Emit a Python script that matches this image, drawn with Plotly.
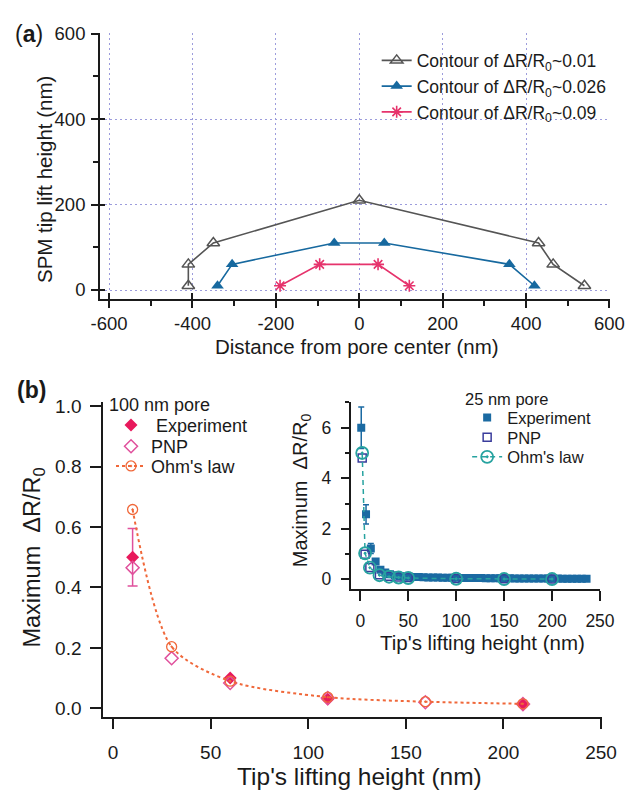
import plotly.graph_objects as go

W, H = 640, 791
FONT = "Liberation Sans, Arial, Helvetica, sans-serif"
INK = "#1a1a1a"

# ---------------- data ----------------
# (a) contours of constant resistance change: lateral distance (nm) vs tip lift height (nm)
c01_dist = [-410, -410, -350, 0, 430, 465, 540]
c01_height = [10, 60, 110, 210, 110, 60, 10]
c026_dist = [-340, -305, -60, 60, 360, 420]
c026_height = [10, 60, 110, 110, 60, 10]
c09_dist = [-190, -95, 45, 120]
c09_height = [10, 60, 60, 10]

# (b) 100 nm pore: maximum dR/R0 vs tip lifting height (nm)
p100_exp_h = [10, 60, 110, 210]
p100_exp = [0.50, 0.10, 0.03, 0.013]
p100_exp_err = [0.095, 0.0, 0.0, 0.0]
p100_pnp_h = [10, 30, 60, 110, 160, 210]
p100_pnp = [0.465, 0.166, 0.084, 0.034, 0.020, 0.014]
p100_ohm_h = [10, 30, 60, 110, 160, 210]
p100_ohm = [0.658, 0.204, 0.090, 0.037, 0.022, 0.015]

# inset: 25 nm pore
p25_exp_h = [1, 6, 11, 16, 21, 26, 31, 36, 41, 46, 51, 56, 61, 66, 71, 76,
             81, 86, 91, 96, 101, 106, 111, 116, 121, 126, 131, 136, 141, 146,
             151, 156, 161, 166, 171, 176, 181, 186, 191, 196, 201, 206, 211,
             216, 221, 226, 231, 236]
p25_exp = [6.0, 2.57, 1.22, 0.70, 0.38, 0.27, 0.20, 0.16, 0.13, 0.11, 0.10,
           0.09, 0.085, 0.08, 0.075, 0.07, 0.068, 0.065, 0.062, 0.06, 0.058,
           0.055, 0.053, 0.05, 0.048, 0.046, 0.045, 0.043, 0.042, 0.04, 0.038,
           0.037, 0.035, 0.034, 0.033, 0.032, 0.031, 0.03, 0.029, 0.028, 0.027,
           0.026, 0.025, 0.024, 0.023, 0.022, 0.021, 0.02]
p25_exp_err = [0.82, 0.38, 0.20, 0.10, 0, 0, 0, 0, 0, 0, 0, 0, 0, 0, 0, 0,
               0, 0, 0, 0, 0, 0, 0, 0, 0, 0, 0, 0, 0, 0, 0, 0, 0, 0, 0, 0,
               0, 0, 0, 0, 0, 0, 0, 0, 0, 0, 0, 0]
p25_model_h = [2, 5, 10, 20, 30, 40, 50, 100, 150, 200]
p25_pnp = [4.8, 0.99, 0.47, 0.18, 0.12, 0.09, 0.07, 0.03, 0.02, 0.01]
p25_ohm = [5.0, 1.03, 0.46, 0.16, 0.10, 0.07, 0.05, 0.02, 0.01, 0.01]

# tick positions and labels
a_xticks = [-600, -400, -200, 0, 200, 400, 600]
a_xticklabels = ["-600", "-400", "-200", "0", "200", "400", "600"]
a_yticks = [0, 200, 400, 600]
b_xticks = [0, 50, 100, 150, 200, 250]
b_yticks = [0.0, 0.2, 0.4, 0.6, 0.8, 1.0]
b_yticklabels = ["0.0", "0.2", "0.4", "0.6", "0.8", "1.0"]
i_yticks = [0, 2, 4, 6]
i_yminor = [1, 3, 5, 7]

# ---------------- styles ----------------
GREY = "#555555"
BLUE = "#17699f"
ROSE = "#e6336c"
RED = "#e8195c"
PINK = "#e0509c"
ORANGE = "#f0683a"
SQBLUE = "#1b6aa2"
NAVY = "#3a3c9c"
TEAL = "#27a3a0"
GRIDCOL = "#9c9cdc"


def px_x(p):
    return p / W


def px_y(p):
    return 1 - p / H


fig = go.Figure()

# ---- panel (a) ----
fig.add_trace(go.Scatter(
    x=c01_dist, y=c01_height, mode="lines+markers", xaxis="x", yaxis="y",
    name="Contour of ΔR/R<sub>0</sub>~0.01", legend="legend",
    line=dict(color=GREY, width=1.6),
    marker=dict(symbol="triangle-up-open", size=11, color=GREY, line=dict(width=1.5, color=GREY)),
))
fig.add_trace(go.Scatter(
    x=c026_dist, y=c026_height, mode="lines+markers", xaxis="x", yaxis="y",
    name="Contour of ΔR/R<sub>0</sub>~0.026", legend="legend",
    line=dict(color=BLUE, width=1.6),
    marker=dict(symbol="triangle-up", size=11, color=BLUE),
))
fig.add_trace(go.Scatter(
    x=c09_dist, y=c09_height, mode="lines+markers", xaxis="x", yaxis="y",
    name="Contour of ΔR/R<sub>0</sub>~0.09", legend="legend",
    line=dict(color=ROSE, width=1.6),
    marker=dict(symbol="asterisk-open", size=10, color=ROSE, line=dict(width=1.6, color=ROSE)),
))
# empty traces carrying the inner half of the crossing ticks of panel (a)
fig.add_trace(go.Scatter(x=[], y=[], xaxis="x4", yaxis="y", showlegend=False, hoverinfo="skip"))
fig.add_trace(go.Scatter(x=[], y=[], xaxis="x", yaxis="y4", showlegend=False, hoverinfo="skip"))

# ---- panel (b), 100 nm pore ----
fig.add_trace(go.Scatter(
    x=p100_exp_h, y=p100_exp, mode="markers", xaxis="x2", yaxis="y2",
    name="\u00a0Experiment", legend="legend2",
    marker=dict(symbol="diamond", size=10, color=RED),
    error_y=dict(type="data", array=p100_exp_err, color=PINK, thickness=1.5, width=5),
))
fig.add_trace(go.Scatter(
    x=p100_pnp_h, y=p100_pnp, mode="markers", xaxis="x2", yaxis="y2",
    name="PNP", legend="legend3",
    marker=dict(symbol="diamond-open", size=10, color=PINK, line=dict(width=1.5, color=PINK)),
))
fig.add_trace(go.Scatter(
    x=p100_ohm_h, y=p100_ohm, mode="lines+markers", xaxis="x2", yaxis="y2",
    name="Ohm's law", legend="legend4",
    line=dict(color=ORANGE, width=2, dash="3px,3px", shape="spline", smoothing=0.8),
    marker=dict(symbol="circle-open-dot", size=10, color=ORANGE, line=dict(width=1.3, color=ORANGE)),
))

# ---- inset, 25 nm pore ----
fig.add_trace(go.Scatter(
    x=p25_exp_h, y=p25_exp, mode="markers", xaxis="x3", yaxis="y3",
    name="Experiment", legend="legend5",
    marker=dict(symbol="square", size=8, color=SQBLUE),
    error_y=dict(type="data", array=p25_exp_err, color=SQBLUE, thickness=1.5, width=3),
))
fig.add_trace(go.Scatter(
    x=p25_model_h, y=p25_pnp, mode="markers", xaxis="x3", yaxis="y3",
    name="PNP", legend="legend6",
    marker=dict(symbol="square-open", size=8, color=NAVY, line=dict(width=1.5, color=NAVY)),
))
fig.add_trace(go.Scatter(
    x=p25_model_h, y=p25_ohm, mode="lines+markers", xaxis="x3", yaxis="y3",
    name="Ohm's law", legend="legend7",
    line=dict(color=TEAL, width=1.5, dash="5px,4px"),
    marker=dict(symbol="circle-open-dot", size=12, color=TEAL, line=dict(width=1.8, color=TEAL)),
))


def axis(**kw):
    base = dict(showline=True, linecolor=INK, linewidth=2, ticks="outside",
                tickcolor=INK, tickwidth=1.5, showgrid=False, zeroline=False,
                mirror=False, fixedrange=True, tickmode="array",
                tickfont=dict(family=FONT, size=17, color=INK))
    base.update(kw)
    return base


GRID = dict(showgrid=True, gridcolor=GRIDCOL, griddash="2px,3px", gridwidth=1)
MINOR_OUT = dict(dtick=100, tick0=0, ticks="outside", ticklen=5,
                 tickcolor=INK, tickwidth=1.5)

a_xdom = [px_x(94.7), px_x(624.5)]
a_ydom = [px_y(293), px_y(23.3)]
a_xrange = [-621.5, 601.5]
a_yrange = [-20, 601.5]
a_tickfont = dict(family=FONT, size=18.5, color=INK)

layout_axes = dict(
    xaxis=axis(domain=a_xdom, range=a_xrange, tickvals=a_xticks,
               ticktext=a_xticklabels, ticklen=7, anchor="y",
               ticklabelstandoff=0, tickfont=a_tickfont, minor=MINOR_OUT, **GRID),
    yaxis=axis(domain=a_ydom, range=a_yrange, tickvals=a_yticks, ticklen=7,
               anchor="x", ticklabelstandoff=2, tickfont=a_tickfont,
               minor=MINOR_OUT, **GRID),
    xaxis4=dict(overlaying="x", anchor="y", range=a_xrange, tickmode="array",
                tickvals=a_xticks, ticks="inside", ticklen=6, tickwidth=1.5,
                tickcolor=INK, showticklabels=False, showline=False,
                showgrid=False, zeroline=False, fixedrange=True),
    yaxis4=dict(overlaying="y", anchor="x", side="left", range=a_yrange,
                tickmode="array", tickvals=a_yticks, ticks="inside", ticklen=5,
                tickwidth=1.5, tickcolor=INK, showticklabels=False,
                showline=False, showgrid=False, zeroline=False, fixedrange=True),
    xaxis2=axis(domain=[px_x(98), px_x(616.3)], range=[-5, 250.6],
                tickvals=b_xticks, ticklen=10, anchor="y2",
                ticklabelstandoff=7, tickfont=dict(family=FONT, size=19, color=INK)),
    yaxis2=axis(domain=[px_y(718.3), px_y(398)], range=[-0.03, 1.014],
                tickvals=b_yticks, ticktext=b_yticklabels, ticklen=11,
                anchor="x2", ticklabelstandoff=5,
                tickfont=dict(family=FONT, size=19, color=INK)),
    xaxis3=axis(domain=[px_x(355), px_x(614)], range=[-10, 250],
                tickvals=b_xticks, ticklen=10, anchor="y3", ticklabelstandoff=5,
                tickfont=dict(family=FONT, size=17.5, color=INK)),
    yaxis3=axis(domain=[px_y(588.3), px_y(398)], range=[-0.4, 7.02],
                tickvals=i_yticks, ticklen=8, anchor="x3", ticklabelstandoff=6,
                tickfont=dict(family=FONT, size=17.5, color=INK),
                minor=dict(tickvals=i_yminor, ticks="outside", ticklen=4,
                           tickcolor=INK, tickwidth=1.5)),
)


def leg(x_px, y_px, size, anchor="middle"):
    return dict(x=px_x(x_px), y=px_y(y_px), xanchor="left", yanchor=anchor,
                xref="paper", yref="paper", bgcolor="rgba(0,0,0,0)",
                borderwidth=0, font=dict(family=FONT, size=size, color=INK),
                itemclick=False, itemdoubleclick=False)


legends = dict(
    legend=leg(382, 33, 17.5, anchor="top"),
    legend2=leg(106, 421.7, 18),
    legend3=leg(106, 443.3, 18),
    legend4=leg(106, 463.3, 18),
    legend5=leg(476, 414, 16.5),
    legend6=leg(476, 434, 16.5),
    legend7=leg(476, 454, 16.5),
)


def label(text, x_px, y_px, size, angle=0, xanchor="center", yanchor="middle"):
    return dict(text=text, x=px_x(x_px), y=px_y(y_px), xref="paper", yref="paper",
                showarrow=False, textangle=angle, xanchor=xanchor, yanchor=yanchor,
                font=dict(family=FONT, size=size, color=INK))


annotations = [
    label("(<b>a</b>)", 4, 24, 23, xanchor="left"),
    label("<b>(b)</b>", 6, 386, 23, xanchor="left"),
    label("Distance from pore center (nm)", 362, 342, 20.5),
    label("SPM tip lift height (nm)", 37, 172, 20.5, angle=-90),
    label("Maximum  ΔR/R<sub>0</sub>", 26, 556, 23.5, angle=-90),
    label("Tip's lifting height (nm)", 364, 778, 24.5),
    label("100 nm pore", 102, 401, 18, xanchor="left"),
    label("Tip's lifting height (nm)", 492, 642, 20.5),
    label("Maximum  ΔR/R<sub>0</sub>", 304, 488, 20, angle=-90),
    label("25 nm pore", 472, 395, 16.5, xanchor="left"),
]

fig.update_layout(
    width=W, height=H, margin=dict(l=0, r=0, t=0, b=0),
    paper_bgcolor="white", plot_bgcolor="rgba(0,0,0,0)",
    font=dict(family=FONT, color=INK),
    annotations=annotations,
    **layout_axes, **legends,
)

fig.write_html("out.html")
